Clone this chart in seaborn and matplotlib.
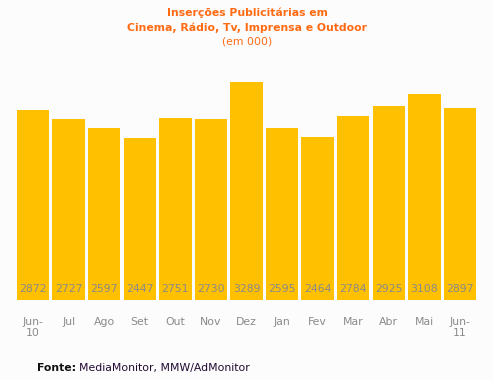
import pandas as pd
import matplotlib.pyplot as plt
import seaborn as sns

# Chart data
months = ['Jun-\n10', 'Jul', 'Ago', 'Set', 'Out', 'Nov', 'Dez', 'Jan', 'Fev', 'Mar', 'Abr', 'Mai', 'Jun-\n11']
insercoes = [2872, 2727, 2597, 2447, 2751, 2730, 3289, 2595, 2464, 2784, 2925, 3108, 2897]

df = pd.DataFrame({'mes': months, 'valor': insercoes})

bg = '#fcfcfc'
bar_color = '#ffc000'
text_gray = '#8a8a8a'
orange = '#ff6a13'

sns.set_style('white')
plt.rcParams['font.family'] = ['DejaVu Sans']

fig = plt.figure(figsize=(4.94, 3.8), dpi=100, facecolor=bg)
ax = fig.add_axes([15.2 / 494, 80 / 380, 462.6 / 494, 238 / 380])
ax.set_facecolor(bg)

sns.barplot(data=df, x='mes', y='valor', color=bar_color, width=0.91,
            saturation=1, linewidth=0, ax=ax)

ax.set_xlim(-0.5, len(months) - 0.5)
ax.set_ylim(0, 238 / 0.0662)

# value labels at the bottom of each bar
for i, v in enumerate(insercoes):
    ax.text(i, 170, str(v), ha='center', va='center', fontsize=7.8, color=text_gray)

ax.set_xlabel('')
ax.set_ylabel('')
ax.set_yticks([])
ax.tick_params(axis='x', length=0, pad=12, labelsize=7.8, labelcolor=text_gray)
for s in ax.spines.values():
    s.set_visible(False)

# title
fig.text(0.5, 1 - 13 / 380, 'Inserções Publicitárias em', ha='center', va='center',
         fontsize=7.8, fontweight='bold', color=orange)
fig.text(0.5, 1 - 27.5 / 380, 'Cinema, Rádio, Tv, Imprensa e Outdoor', ha='center', va='center',
         fontsize=7.8, fontweight='bold', color=orange)
fig.text(0.5, 1 - 42 / 380, '(em 000)', ha='center', va='center',
         fontsize=7.8, color=orange)

# source
fig.text(37 / 494, 1 - 368 / 380, 'Fonte:', ha='left', va='center',
         fontsize=7.8, fontweight='bold', color='#111111')
fig.text(79 / 494, 1 - 368 / 380, 'MediaMonitor, MMW/AdMonitor', ha='left', va='center',
         fontsize=7.8, color='#220a33')

plt.savefig('out.png', dpi=100, facecolor=bg)
